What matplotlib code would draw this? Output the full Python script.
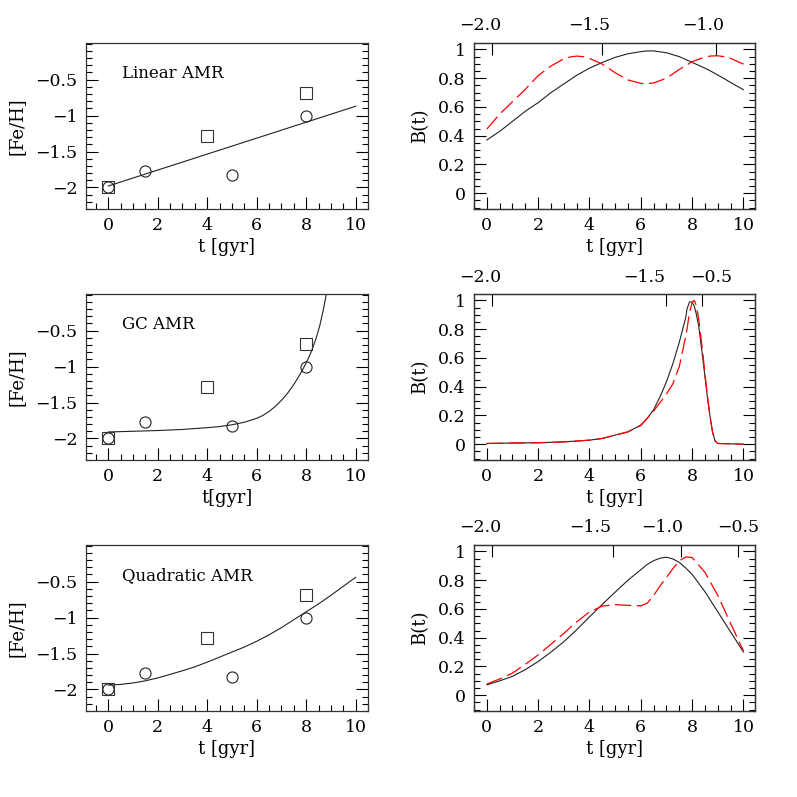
import matplotlib
matplotlib.use("Agg")
import matplotlib.pyplot as plt
from matplotlib.ticker import MultipleLocator

plt.rcParams['font.family'] = ['DejaVu Serif']
plt.rcParams['axes.unicode_minus'] = True

# observed points (left column)
circ_t = [0, 1.5, 5, 8]
circ_feh = [-2.0, -1.77, -1.83, -1.0]
sq_t = [0, 4, 8]
sq_feh = [-2.0, -1.28, -0.69]

# age-metallicity relations
lin_t = [0, 10]
lin_feh = [-1.98, -0.87]

gc_t = [0, 1, 2, 3, 4, 4.5, 5, 5.5, 6, 6.25, 6.5, 6.75, 7, 7.25, 7.5, 7.75,
        8, 8.2, 8.4, 8.55, 8.7, 8.8, 8.9]
gc_feh = [-1.91, -1.90, -1.89, -1.875, -1.85, -1.835, -1.81, -1.775, -1.72,
          -1.68, -1.625, -1.555, -1.47, -1.37, -1.25, -1.11, -0.95, -0.80,
          -0.61, -0.43, -0.20, -0.02, 0.17]

quad_t = [0, 0.5, 1, 1.5, 2, 2.5, 3, 3.5, 4, 4.5, 5, 5.5, 6, 6.5, 7, 7.5,
          8, 8.5, 9, 9.5, 10]
quad_feh = [-1.94, -1.93, -1.91, -1.88, -1.84, -1.79, -1.74, -1.685, -1.62,
            -1.55, -1.48, -1.41, -1.33, -1.24, -1.14, -1.03, -0.92, -0.81,
            -0.69, -0.565, -0.44]

# B(t) curves (right column)
lin_b_t = [0, 0.5, 1, 1.5, 2, 2.5, 3, 3.25, 3.5, 3.75, 4, 4.5, 5, 5.5, 6,
           6.25, 6.5, 7, 7.5, 8, 8.5, 8.75, 9, 9.25, 9.5, 10]
lin_b_black = [0.37, 0.43, 0.50, 0.57, 0.63, 0.70, 0.76, 0.79, 0.82, 0.845,
               0.87, 0.91, 0.945, 0.97, 0.985, 0.99, 0.99, 0.977, 0.95, 0.91,
               0.87, 0.847, 0.822, 0.797, 0.77, 0.72]
lin_b_red = [0.446, 0.55, 0.637, 0.723, 0.818, 0.885, 0.935, 0.948, 0.954,
             0.95, 0.938, 0.898, 0.838, 0.788, 0.764, 0.762, 0.767, 0.80,
             0.861, 0.915, 0.948, 0.955, 0.956, 0.95, 0.938, 0.898]

gc_b_t = [0, 1, 2, 3, 4, 4.5, 5, 5.5, 6, 6.25, 6.5, 6.75, 7, 7.25, 7.5, 7.75,
          7.8, 7.9, 8.0, 8.07, 8.1, 8.15, 8.25, 8.4, 8.5, 8.6, 8.7, 8.8, 8.9,
          9, 10]
gc_b_black = [0.005, 0.008, 0.01, 0.016, 0.028, 0.04, 0.063, 0.086, 0.133,
              0.18, 0.24, 0.33, 0.435, 0.56, 0.71, 0.88, 0.94, 0.99, 0.99,
              0.965, 0.95, 0.915, 0.83, 0.62, 0.47, 0.32, 0.19, 0.08, 0.02,
              0.005, 0.0]
gc_b_red = [0.005, 0.008, 0.01, 0.016, 0.028, 0.04, 0.063, 0.086, 0.13,
            0.18, 0.23, 0.29, 0.35, 0.42, 0.54, 0.75, 0.80, 0.92, 0.985,
            1.0, 0.995, 0.97, 0.88, 0.66, 0.49, 0.33, 0.19, 0.08, 0.02,
            0.005, 0.0]

quad_b_t = [0, 0.5, 1, 1.5, 2, 2.5, 3, 3.5, 4, 4.5, 5, 5.5, 6, 6.25, 6.5,
            6.75, 7, 7.25, 7.5, 7.75, 8, 8.5, 9, 9.5, 10]
quad_b_black = [0.072, 0.10, 0.131, 0.178, 0.234, 0.30, 0.372, 0.455, 0.545,
                0.632, 0.717, 0.80, 0.873, 0.91, 0.936, 0.953, 0.96, 0.948,
                0.924, 0.885, 0.84, 0.72, 0.58, 0.44, 0.30]
quad_b_red = [0.078, 0.113, 0.154, 0.215, 0.28, 0.355, 0.43, 0.51, 0.579,
              0.62, 0.63, 0.625, 0.622, 0.64, 0.694, 0.76, 0.82, 0.88, 0.935,
              0.962, 0.958, 0.855, 0.694, 0.499, 0.308]

# top axis ([Fe/H] at given t)
top_tick_t = [[0.19, 4.5, 8.93], [0.19, 7.0, 8.39], [0.19, 4.93, 7.55, 9.77]]
top_tick_lab = [["−2.0", "−1.5", "−1.0"], ["−2.0", "−1.5", "−0.5"],
                ["−2.0", "−1.5", "−1.0", "−0.5"]]
top_lab_shift = [[-12, -13, -13], [-12, -22, 9], [-12, -23, -18, 1]]

amr_names = ["Linear AMR", "GC AMR", "Quadratic AMR"]
xlabels_left = ["t [gyr]", "t[gyr]", "t [gyr]"]

feh_ticks = [-2, -1.5, -1, -0.5]
feh_labels = ["−2", "−1.5", "−1", "−0.5"]
b_ticks = [0, 0.2, 0.4, 0.6, 0.8, 1]
b_labels = ["0", "0.2", "0.4", "0.6", "0.8", "1"]
t_ticks = [0, 2, 4, 6, 8, 10]
t_labels = ["0", "2", "4", "6", "8", "10"]

amr_t = [lin_t, gc_t, quad_t]
amr_feh = [lin_feh, gc_feh, quad_feh]
b_t = [lin_b_t, gc_b_t, quad_b_t]
b_black = [lin_b_black, gc_b_black, quad_b_black]
b_red = [lin_b_red, gc_b_red, quad_b_red]

W = 797.0
fig = plt.figure(figsize=(7.97, 7.97), dpi=100)
row_bottom = [209, 460, 711]
ax_h = 166


def style(ax):
    ax.tick_params(which='both', direction='in', top=False, right=True,
                   labelsize=12.5, width=0.8, pad=6)
    ax.tick_params(which='major', length=8.5)
    ax.tick_params(which='minor', length=4.3)
    for s in ax.spines.values():
        s.set_linewidth(0.9)
        s.set_color('#333333')


for i in range(3):
    yb = 1 - row_bottom[i] / W
    # left column
    ax = fig.add_axes([86 / W, yb, 282 / W, ax_h / W])
    ax.plot(amr_t[i], amr_feh[i], color='#222222', lw=0.8)
    ax.plot(circ_t, circ_feh, 'o', mfc='none', mec='#222222', ms=8, mew=0.8)
    ax.plot(sq_t, sq_feh, 's', mfc='none', mec='#333333', ms=8, mew=0.8)
    ax.set_xlim(-0.9, 10.5)
    ax.set_ylim(-2.3, 0.01)
    ax.set_xticks(t_ticks, t_labels)
    ax.set_yticks(feh_ticks, feh_labels)
    ax.xaxis.set_minor_locator(MultipleLocator(0.5))
    ax.yaxis.set_minor_locator(MultipleLocator(0.1))
    style(ax)
    ax.text(0.55, -0.42, amr_names[i], fontsize=12, ha='left', va='center')
    ax.set_xlabel(xlabels_left[i], fontsize=13)
    ax.set_ylabel("[Fe/H]", fontsize=13)
    ax.xaxis.set_label_coords(0.5, -29 / ax_h)
    ax.yaxis.set_label_coords(-60 / 282, 0.5)

    # right column
    ax = fig.add_axes([474 / W, yb, 281 / W, ax_h / W])
    ax.plot(b_t[i], b_black[i], color='#222222', lw=0.8)
    ax.plot(b_t[i], b_red[i], color='red', lw=0.9, ls=(0, (13, 4.5)))
    ax.set_xlim(-0.5, 10.45)
    ax.set_ylim(-0.11, 1.045)
    ax.set_xticks(t_ticks, t_labels)
    ax.set_yticks(b_ticks, b_labels)
    ax.xaxis.set_minor_locator(MultipleLocator(0.5))
    ax.yaxis.set_minor_locator(MultipleLocator(0.05))
    style(ax)
    ax.set_xlabel("t [gyr]", fontsize=13)
    ax.set_ylabel("B(t)", fontsize=13)
    ax.xaxis.set_label_coords(0.5, -29 / ax_h)
    ax.yaxis.set_label_coords(-45 / 281, 0.5)

    ax2 = ax.twiny()
    ax2.set_xlim(ax.get_xlim())
    ax2.set_xticks(top_tick_t[i], [""] * len(top_tick_t[i]))
    ax2.tick_params(direction='in', length=8.5, width=0.8, top=True)
    for s in ax2.spines.values():
        s.set_linewidth(0.9)
        s.set_color('#333333')
    for tt, lab, dx in zip(top_tick_t[i], top_tick_lab[i], top_lab_shift[i]):
        ax.annotate(lab, xy=(tt, 1), xycoords=('data', 'axes fraction'),
                    xytext=(dx, 17), textcoords='offset pixels',
                    ha='center', va='center', fontsize=12.5)

fig.savefig("out.png", dpi=100)
